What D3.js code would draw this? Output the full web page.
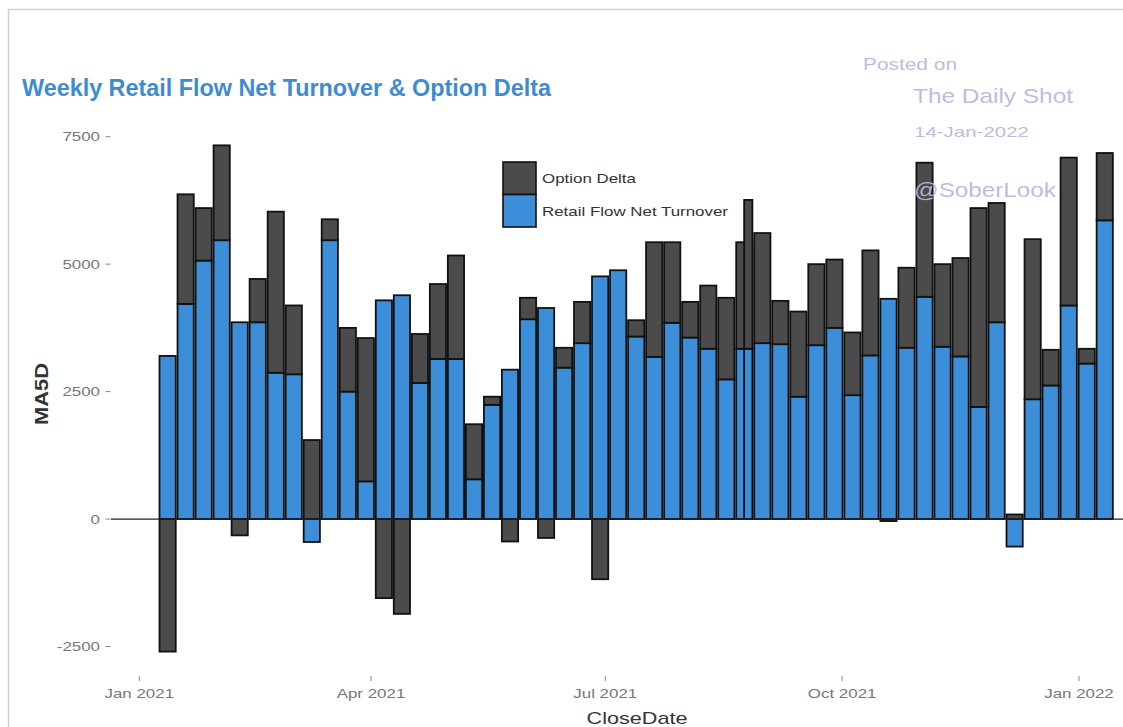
<!DOCTYPE html>
<html>
<head>
<meta charset="utf-8">
<script src="https://cdn.jsdelivr.net/npm/d3@7"></script>
<style>
  body { margin: 0; background: #fff; }
  svg { display: block; font-family: "Liberation Sans", Arial, sans-serif; }
</style>
</head>
<body>
<div id="chart"></div>
<script>
// weekly close dates
const weeks = [
    '2021-01-12', '2021-01-19', '2021-01-26', '2021-02-02', '2021-02-09', '2021-02-16', '2021-02-23',
    '2021-03-02', '2021-03-09', '2021-03-16', '2021-03-23', '2021-03-30', '2021-04-06', '2021-04-13',
    '2021-04-20', '2021-04-27', '2021-05-04', '2021-05-11', '2021-05-18', '2021-05-25', '2021-06-01',
    '2021-06-08', '2021-06-15', '2021-06-22', '2021-06-29', '2021-07-06', '2021-07-13', '2021-07-20',
    '2021-07-27', '2021-08-03', '2021-08-10', '2021-08-17', '2021-08-24', '2021-08-31', '2021-09-07',
    '2021-09-14', '2021-09-21', '2021-09-28', '2021-10-05', '2021-10-12', '2021-10-19', '2021-10-26',
    '2021-11-02', '2021-11-09', '2021-11-16', '2021-11-23', '2021-11-30', '2021-12-07', '2021-12-14',
    '2021-12-21', '2021-12-28', '2022-01-04', '2022-01-11'
];
const retailFlow = [
    3200, 4220, 5070, 5470, 3860, 3860, 2870, 2840, -450, 5470, 2500, 740, 4290, 4390,
    2670, 3140, 3140, 780, 2240, 2930, 3920, 4140, 2970, 3450, 4760, 4880, 3580, 3180,
    3850, 3560, 3340, 2740, 3340, 3450, 3430, 2400, 3410, 3750, 2430, 3210, 4320, 3360,
    4360, 3380, 3190, 2200, 3860, -540, 2350, 2620, 4190, 3050, 5860
];
const optionDelta = [
    -2600, 2150, 1030, 1860, -320, 850, 3160, 1350, 1550, 410, 1250, 2810, -1550, -1860,
    960, 1470, 2030, 1080, 160, -440, 420, -370, 390, 810, -1180, 0, 320, 2250,
    1580, 700, 1240, 1600, 2090, 2160, 850, 1670, 1590, 1340, 1230, 2060, -40, 1570,
    2630, 1620, 1930, 3900, 2340, 90, 3140, 700, 2900, 290, 1320
];
// the source has one narrower bar overlapping the 24 Aug week
const extraWeeks = ['2021-08-25T13:00Z'];
const extraRetail = [3340];
const extraOption = [2920];
const extraBarDays = [3.2];

const yTicks = [-2500, 0, 2500, 5000, 7500];
const xTicks = ['2021-01-01', '2021-04-01', '2021-07-01', '2021-10-01', '2022-01-01'];
const seriesNames = ['Option Delta', 'Retail Flow Net Turnover'];
const seriesColors = ['#4b4b4b', '#3c8ed8'];

const W = 1123, H = 727;
const barDays = 6.3;
const DAY = 86400000;

function widen(sel, f) {
    // the source picture is stretched sideways, so the text is too
    sel.each(function () {
        const w = this.getComputedTextLength();
        this.setAttribute('textLength', w * f);
        this.setAttribute('lengthAdjust', 'spacingAndGlyphs');
    });
}

function stackRows(rows) {
    const segs = [];
    rows.forEach(r => {
        let pos = 0, neg = 0;
        [[r.retail, 1], [r.option, 0]].forEach(([v, s]) => {
            if (v === 0) return;
            if (v > 0) {
                segs.push({ date: r.date, days: r.days, s: s, y0: pos, y1: pos + v });
                pos += v;
            } else {
                segs.push({ date: r.date, days: r.days, s: s, y0: neg + v, y1: neg });
                neg += v;
            }
        });
    });
    return segs;
}

function drawChart() {
    const svg = d3.select('#chart')
        .append('svg')
        .attr('width', W)
        .attr('height', H);

    svg.append('rect').attr('width', W).attr('height', H).attr('fill', '#fff');

    // frame of the screenshot
    svg.append('path')
        .attr('d', `M8.5,${H} V9.5 H${W}`)
        .attr('fill', 'none')
        .attr('stroke', '#cfcfcf')
        .attr('stroke-width', 1.5);

    const x = d3.scaleUtc()
        .domain([d3.isoParse(xTicks[0]), d3.isoParse(xTicks[xTicks.length - 1])])
        .range([139.3, 1079]);

    const y = d3.scaleLinear()
        .domain([-2500, 7500])
        .range([646.5, 136.7]);

    const rows = weeks.map((w, i) => ({
        date: d3.isoParse(w), retail: retailFlow[i], option: optionDelta[i], days: barDays
    }));
    extraWeeks.forEach((w, i) => rows.push({
        date: d3.isoParse(w), retail: extraRetail[i], option: extraOption[i], days: extraBarDays[i]
    }));
    rows.sort((a, b) => a.date - b.date);

    const segs = stackRows(rows);

    svg.append('g')
        .selectAll('rect')
        .data(segs)
        .join('rect')
        .attr('x', d => x(new Date(+d.date - d.days * DAY / 2)))
        .attr('width', d => x(new Date(+d.date + d.days * DAY / 2)) - x(new Date(+d.date - d.days * DAY / 2)))
        .attr('y', d => y(d.y1))
        .attr('height', d => y(d.y0) - y(d.y1))
        .attr('fill', d => seriesColors[d.s])
        .attr('stroke', '#111')
        .attr('stroke-width', 1.8);

    // zero line
    svg.append('line')
        .attr('x1', 111).attr('x2', W)
        .attr('y1', y(0)).attr('y2', y(0))
        .attr('stroke', '#222')
        .attr('stroke-width', 1.3);

    // y axis
    const yAxis = svg.append('g');
    yAxis.selectAll('line')
        .data(yTicks)
        .join('line')
        .attr('x1', 105.5).attr('x2', 110.5)
        .attr('y1', d => y(d)).attr('y2', d => y(d))
        .attr('stroke', '#888');
    yAxis.selectAll('text')
        .data(yTicks)
        .join('text')
        .attr('x', 100)
        .attr('y', d => y(d) + 4.5)
        .attr('text-anchor', 'end')
        .attr('fill', '#777')
        .style('font-size', '13px')
        .text(d => d)
        .call(widen, 1.3);

    // x axis
    const xAxis = svg.append('g');
    const fmt = d3.utcFormat('%b %Y');
    xAxis.selectAll('line')
        .data(xTicks)
        .join('line')
        .attr('x1', d => x(d3.isoParse(d))).attr('x2', d => x(d3.isoParse(d)))
        .attr('y1', 676).attr('y2', 681)
        .attr('stroke', '#888');
    xAxis.selectAll('text')
        .data(xTicks)
        .join('text')
        .attr('x', d => x(d3.isoParse(d)))
        .attr('y', 698)
        .attr('text-anchor', 'middle')
        .attr('fill', '#777')
        .style('font-size', '13px')
        .text(d => fmt(d3.isoParse(d)))
        .call(widen, 1.3);

    svg.append('text')
        .attr('x', 637).attr('y', 724)
        .attr('text-anchor', 'middle')
        .attr('fill', '#333')
        .style('font-size', '17px')
        .text('CloseDate')
        .call(widen, 1.27);

    svg.append('text')
        .attr('transform', 'translate(48,394) rotate(-90)')
        .attr('text-anchor', 'middle')
        .attr('fill', '#333')
        .style('font-size', '18px')
        .style('font-weight', 'bold')
        .attr('textLength', 62)
        .attr('lengthAdjust', 'spacingAndGlyphs')
        .text('MA5D');

    // title
    svg.append('text')
        .attr('x', 22).attr('y', 96)
        .attr('fill', '#3f8bd0')
        .style('font-size', '23px')
        .style('font-weight', 'bold')
        .attr('textLength', 529)
        .attr('lengthAdjust', 'spacingAndGlyphs')
        .text('Weekly Retail Flow Net Turnover & Option Delta');

    // legend
    const legend = svg.append('g').attr('transform', 'translate(503,162)');
    seriesNames.forEach((name, i) => {
        legend.append('rect')
            .attr('x', 0).attr('y', i * 32.5)
            .attr('width', 33).attr('height', 32.5)
            .attr('fill', seriesColors[i])
            .attr('stroke', '#111')
            .attr('stroke-width', 1.6);
        legend.append('text')
            .attr('x', 39).attr('y', i * 32.5 + 21)
            .attr('fill', '#333')
            .style('font-size', '13px')
            .text(name)
            .call(widen, 1.3);
    });

    // watermark
    const mark = [
        { t: 'Posted on', x: 863, y: 70, size: 16, len: 94 },
        { t: 'The Daily Shot', x: 913, y: 103, size: 21, len: 160 },
        { t: '14-Jan-2022', x: 914, y: 137, size: 15, len: 115 },
        { t: '@SoberLook', x: 914, y: 197, size: 21, len: 142 }
    ];
    svg.append('g')
        .selectAll('text')
        .data(mark)
        .join('text')
        .attr('x', d => d.x).attr('y', d => d.y)
        .attr('fill', '#b9b7dd')
        .attr('fill-opacity', 0.95)
        .style('font-size', d => d.size + 'px')
        .attr('textLength', d => d.len)
        .attr('lengthAdjust', 'spacingAndGlyphs')
        .text(d => d.t);
}

drawChart();
</script>
</body>
</html>
